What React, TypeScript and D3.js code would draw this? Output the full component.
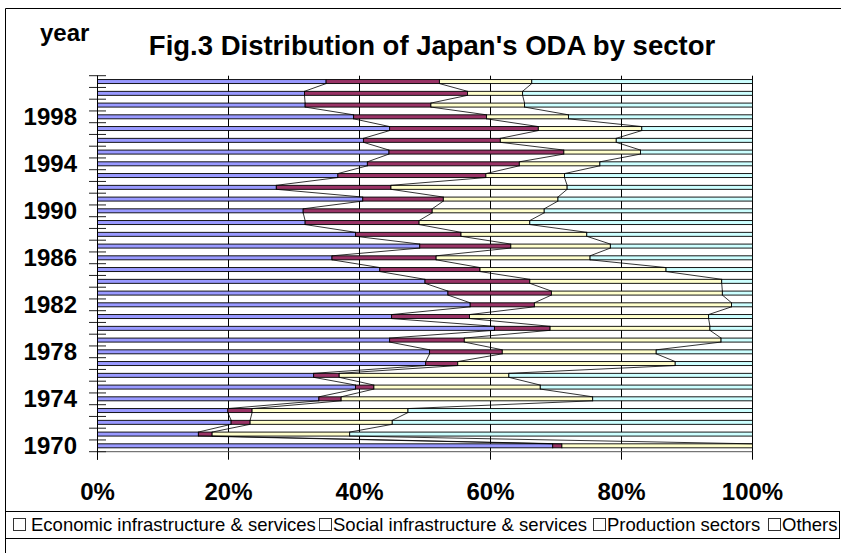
import React, { useEffect, useRef } from "react"
import * as d3 from "d3"

// years bottom -> top
const years = [
  1970, 1971, 1972, 1973, 1974, 1975, 1976, 1977, 1978, 1979, 1980,
  1981, 1982, 1983, 1984, 1985, 1986, 1987, 1988, 1989, 1990, 1991,
  1992, 1993, 1994, 1995, 1996, 1997, 1998, 1999, 2000, 2001
]

// shares in %
const economic = [
  69.5, 15.4, 20.4, 19.9, 33.8, 39.4, 33.0, 50.1, 50.7, 44.6, 60.6,
  44.9, 56.9, 53.5, 50.0, 43.1, 35.8, 49.2, 39.4, 31.7, 31.4, 40.5,
  27.3, 36.7, 41.2, 44.5, 40.6, 44.6, 39.1, 31.7, 31.6, 34.9
]
const social = [
  1.4, 2.1, 2.9, 3.7, 3.4, 2.8, 3.9, 4.9, 11.1, 11.4, 8.5,
  11.9, 9.8, 15.8, 16.0, 15.3, 15.9, 13.9, 16.1, 17.4, 19.7, 12.3,
  17.5, 22.6, 23.2, 26.7, 20.9, 22.7, 20.3, 19.2, 24.9, 17.3
]
const production = [
  29.1, 21.0, 21.7, 23.8, 38.4, 25.4, 25.9, 33.2, 23.5, 39.2, 24.4,
  36.5, 30.1, 26.1, 29.3, 28.4, 23.5, 15.2, 19.2, 16.9, 17.1, 17.5,
  26.9, 12.0, 12.3, 11.7, 17.7, 15.8, 12.5, 14.3, 8.4, 14.1
]
const others = [
  0.0, 61.5, 55.0, 52.6, 24.4, 32.4, 37.2, 11.8, 14.7, 4.8, 6.5,
  6.7, 3.2, 4.6, 4.7, 13.2, 24.8, 21.7, 25.3, 34.0, 31.8, 29.7,
  28.3, 28.7, 23.3, 17.1, 20.8, 16.9, 28.1, 34.8, 35.1, 33.7
]

const seriesKeys = ["econ", "social", "prod", "others"]
const seriesNames = [
  "Economic infrastructure & services",
  "Social infrastructure & services",
  "Production sectors",
  "Others"
]
const seriesColors = ["#9999ff", "#993366", "#ffffcc", "#ccffff"]
const yearLabels = [1970, 1974, 1978, 1982, 1986, 1990, 1994, 1998]
const xTicks = [0, 0.2, 0.4, 0.6, 0.8, 1]

function OdaChart() {
  const ref = useRef(null)

  useEffect(() => {
    const svg = d3.select(ref.current)
    svg.selectAll("*").remove()
    const font = "'Liberation Sans', Arial, sans-serif"

    const rows = years.map((yr, i) => ({
      year: yr,
      econ: economic[i],
      social: social[i],
      prod: production[i],
      others: others[i]
    }))
    const stacked = d3.stack().keys(seriesKeys).offset(d3.stackOffsetExpand)(rows)

    const x = d3.scaleLinear().domain([0, 1]).range([97.5, 752.5])
    const y = d3
      .scaleBand()
      .domain(years.slice().reverse())
      .range([75.7, 451.7])
    const barH = 4
    const barTop = yr => y(yr) + y.bandwidth() / 2 - barH / 2
    const plotTop = 75.7
    const plotBottom = 451.7

    // outer frame (runs off the right / bottom edge)
    svg
      .append("path")
      .attr("d", "M5.5,553 L5.5,8.5 L841,8.5")
      .attr("fill", "none")
      .attr("stroke", "#000")

    // vertical gridlines + x ticks
    svg
      .append("g")
      .selectAll("line")
      .data(xTicks)
      .join("line")
      .attr("x1", d => x(d))
      .attr("x2", d => x(d))
      .attr("y1", plotTop)
      .attr("y2", plotBottom + 8)
      .attr("stroke", "#000")

    // x axis line
    svg
      .append("line")
      .attr("x1", x(0))
      .attr("x2", x(1))
      .attr("y1", plotBottom)
      .attr("y2", plotBottom)
      .attr("stroke", "#555")

    // y ticks at band edges (cross style)
    const edges = years.map(yr => y(yr)).concat([plotBottom])
    svg
      .append("g")
      .selectAll("line")
      .data(edges)
      .join("line")
      .attr("x1", 89)
      .attr("x2", 106)
      .attr("y1", d => d)
      .attr("y2", d => d)
      .attr("stroke", "#222")

    // bars
    svg
      .append("g")
      .selectAll("g")
      .data(stacked)
      .join("g")
      .attr("fill", (d, i) => seriesColors[i])
      .selectAll("rect")
      .data(d => d)
      .join("rect")
      .attr("x", d => x(d[0]))
      .attr("width", d => Math.max(0, x(d[1]) - x(d[0])))
      .attr("y", d => barTop(d.data.year))
      .attr("height", barH)
      .attr("stroke", "#000")
      .attr("stroke-width", 0.9)

    // series lines between neighbouring bars
    const links = []
    stacked.slice(0, 3).forEach(s => {
      for (let i = 0; i < s.length - 1; i++) {
        links.push({
          x1: x(s[i][1]),
          y1: barTop(s[i].data.year),
          x2: x(s[i + 1][1]),
          y2: barTop(s[i + 1].data.year) + barH
        })
      }
    })
    svg
      .append("g")
      .selectAll("line")
      .data(links)
      .join("line")
      .attr("x1", d => d.x1)
      .attr("y1", d => d.y1)
      .attr("x2", d => d.x2)
      .attr("y2", d => d.y2)
      .attr("stroke", "#000")
      .attr("stroke-width", 0.8)

    // left axis line
    svg
      .append("line")
      .attr("x1", x(0))
      .attr("x2", x(0))
      .attr("y1", plotTop)
      .attr("y2", plotBottom + 8)
      .attr("stroke", "#000")

    // year labels
    svg
      .append("g")
      .attr("font-family", font)
      .attr("font-weight", "bold")
      .attr("font-size", 24)
      .attr("text-anchor", "end")
      .selectAll("text")
      .data(yearLabels)
      .join("text")
      .attr("x", 77)
      .attr("y", d => y(d) + y.bandwidth() / 2)
      .attr("dy", "0.36em")
      .text(d => d)

    // percent labels
    svg
      .append("g")
      .attr("font-family", font)
      .attr("font-weight", "bold")
      .attr("font-size", 24)
      .attr("text-anchor", "middle")
      .selectAll("text")
      .data(xTicks)
      .join("text")
      .attr("x", d => x(d))
      .attr("y", 500)
      .text(d => d3.format(".0%")(d))

    svg
      .append("text")
      .attr("x", 40)
      .attr("y", 41)
      .attr("font-family", font)
      .attr("font-weight", "bold")
      .attr("font-size", 24)
      .text("year")

    svg
      .append("text")
      .attr("x", 432)
      .attr("y", 55)
      .attr("font-family", font)
      .attr("font-weight", "bold")
      .attr("font-size", 27.5)
      .attr("text-anchor", "middle")
      .text("Fig.3 Distribution of Japan's ODA by sector")

    // legend
    const legend = svg.append("g")
    legend
      .append("rect")
      .attr("x", 5.5)
      .attr("y", 511.5)
      .attr("width", 834)
      .attr("height", 27)
      .attr("fill", "#fff")
      .attr("stroke", "#000")
    const boxX = [13, 319, 593, 768]
    const textX = [31, 333, 607, 782]
    const items = legend
      .selectAll("g.item")
      .data(seriesNames)
      .join("g")
      .attr("class", "item")
    items
      .append("rect")
      .attr("x", (d, i) => boxX[i] + 0.5)
      .attr("y", 518.5)
      .attr("width", 12)
      .attr("height", 12)
      .attr("fill", "#fff")
      .attr("stroke", "#333")
    items
      .append("text")
      .attr("x", (d, i) => textX[i])
      .attr("y", 531)
      .attr("font-family", font)
      .attr("font-size", 18.5)
      .attr("fill", "#000")
      .text(d => d)
  }, [])

  return (
    <svg
      ref={ref}
      width={841}
      height={553}
      style={{ position: "absolute", left: 0, top: 0, background: "#fff" }}
    />
  )
}

export default function App() {
  return <OdaChart />
}
